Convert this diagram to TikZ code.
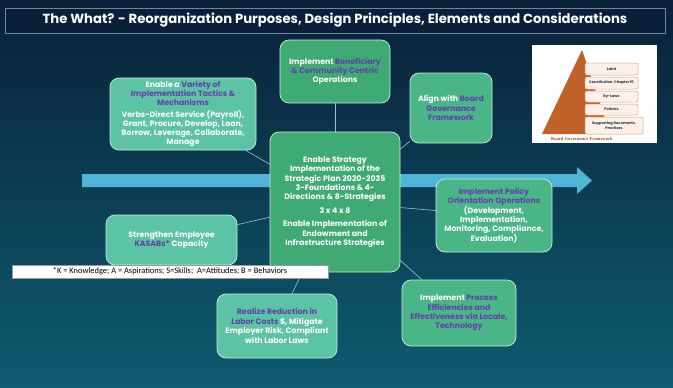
\documentclass[tikz,border=0pt]{standalone}
\usepackage{fontspec}
\setmainfont{Poppins}
\newfontfamily\calib{Carlito}
\newfontfamily\tserif{Liberation Serif}
\definecolor{bgdark}{HTML}{0A2038}
\definecolor{bgmid}{HTML}{0D3A5A}
\definecolor{bgteal}{HTML}{0E5C70}
\definecolor{arrowc}{HTML}{4FB4D6}
\definecolor{mintc}{HTML}{5CC4A4}
\definecolor{greenc}{HTML}{3FAA74}
\definecolor{greenb}{HTML}{4AB687}
\definecolor{edgec}{HTML}{C8EEDD}
\definecolor{purp}{HTML}{6240AA}
\definecolor{linec}{HTML}{8CCBD6}
\definecolor{pyro}{HTML}{C0622A}
\definecolor{pybox}{HTML}{FBF1EA}
\definecolor{pyedge}{HTML}{E2A27E}
\newcommand{\pu}[1]{\textcolor{purp}{#1}}
\tikzset{
  box/.style={draw=edgec, line width=0.7pt, rounded corners=9pt, align=center,
    text=white, font=\bfseries\fontsize{7.8}{9.4}\selectfont, inner sep=1pt},
  mintbox/.style={box, fill=mintc},
  greenbox/.style={box, fill=greenc},
  green2box/.style={box, fill=greenb},
  conn/.style={draw=linec, line width=0.6pt},
  pystep/.style={draw=pyedge, fill=pybox, line width=0.5pt, rounded corners=2pt,
    font=\fontsize{3.6}{4.2}\selectfont\bfseries, text=black!80, align=center, inner sep=0.5pt}
}
\begin{document}
\begin{tikzpicture}[x=1pt,y=-1pt]
\useasboundingbox (0,0) rectangle (673,388);
% background
\shade[left color=bgdark, right color=bgteal, shading angle=0] (0,0) rectangle (673,388);
\shade[top color=bgdark, bottom color=bgteal, opacity=0.5] (0,0) rectangle (673,388);
% title bar
\node[draw=white!40!bgmid, line width=0.5pt, fill=bgdark, minimum width=660pt, minimum height=25pt,
  text=white, font=\bfseries\fontsize{13.2}{15}\selectfont] (title) at (335,20.5)
  {The What? - Reorganization Purposes, Design Principles, Elements and Considerations};
% big arrow
\fill[arrowc] (82,174) -- (577,174) -- (577,167) -- (592,180.5) -- (577,194) -- (577,187) -- (82,187) -- cycle;
% boxes
\node[greenbox, minimum width=130pt, minimum height=140pt] (center) at (335,202)
  {Enable Strategy\\Implementation of the\\Strategic Plan 2020-2035\\3-Foundations \& 4-\\Directions \& 8-Strategies\\[4pt]
   3 x 4 x 8\\[4pt]Enable Implementation of\\Endowment and\\Infrastructure Strategies};
\node[greenbox, minimum width=110pt, minimum height=63pt] (benef) at (335,71.5)
  {Implement \pu{Beneficiary}\\\pu{\& Community Centric}\\Operations};
\node[mintbox, minimum width=146pt, minimum height=72pt, font=\bfseries\fontsize{7.8}{8.9}\selectfont] (variety) at (183,114)
  {Enable a \pu{Variety of}\\\pu{Implementation Tactics \&}\\\pu{Mechanisms}\\[3pt]
   Verbs-Direct Service (Payroll),\\Grant, Procure, Develop, Loan,\\Borrow, Leverage, Collaborate,\\Manage};
\node[green2box, minimum width=82pt, minimum height=70pt] (align) at (451,108)
  {Align with \pu{Board}\\\pu{Governance}\\\pu{Framework}};
\node[green2box, minimum width=116pt, minimum height=73pt] (policy) at (494,215.5)
  {\pu{Implement Policy}\\\pu{Orientation Operations}\\(Development,\\Implementation,\\Monitoring, Compliance,\\Evaluation)};
\node[mintbox, minimum width=131pt, minimum height=50pt] (strength) at (171.5,240)
  {Strengthen Employee\\\pu{KASABs*} Capacity};
\node[mintbox, minimum width=120pt, minimum height=64pt] (realize) at (277,326)
  {\pu{Realize Reduction in}\\\pu{Labor Costs} \$, Mitigate\\Employer Risk, Compliant\\with Labor Laws};
\node[green2box, minimum width=114pt, minimum height=66pt] (process) at (459,313)
  {Implement \pu{Process}\\\pu{Efficiencies and}\\\pu{Effectiveness via Locale,}\\\pu{Technology}};
% connectors
\draw[conn] (center) -- (benef);
\draw[conn] (center) -- (variety);
\draw[conn] (center) -- (align);
\draw[conn] (center) -- (policy);
\draw[conn] (center) -- (strength);
\draw[conn] (center) -- (realize);
\draw[conn] (center) -- (process);
% footnote
\node[draw=black!40, fill=white, minimum width=316pt, minimum height=13pt, inner sep=1pt,
  font=\calib\fontsize{8.4}{9}\selectfont, text=black] (foot) at (170,271.5)
  {*K = Knowledge; A = Aspirations; S=Skills;\ \ A=Attitudes; B = Behaviors};
% pyramid picture
\fill[white] (532,45) rectangle (657,143);
\fill[pyro] (582,50) -- (610,134) -- (542,134) -- cycle;
\node[pystep, minimum width=53pt, minimum height=12pt] (p1) at (611.5,69) {Lahd};
\node[pystep, minimum width=53pt, minimum height=12pt] (p2) at (611.5,83) {Constitution, Chapter 10};
\node[pystep, minimum width=53pt, minimum height=11pt] (p3) at (611.5,96.5) {By-Laws};
\node[pystep, minimum width=53pt, minimum height=11pt] (p4) at (611.5,109.5) {Policies};
\node[pystep, minimum width=58pt, minimum height=17pt] (p5) at (614,125.5) {Supporting Documents,\\Practices};
\node[font=\tserif\bfseries\fontsize{4.6}{5}\selectfont, text=pyro!80!black, inner sep=0pt] (pycap) at (582,139)
  {Board Governance Framework};
\end{tikzpicture}
\end{document}
